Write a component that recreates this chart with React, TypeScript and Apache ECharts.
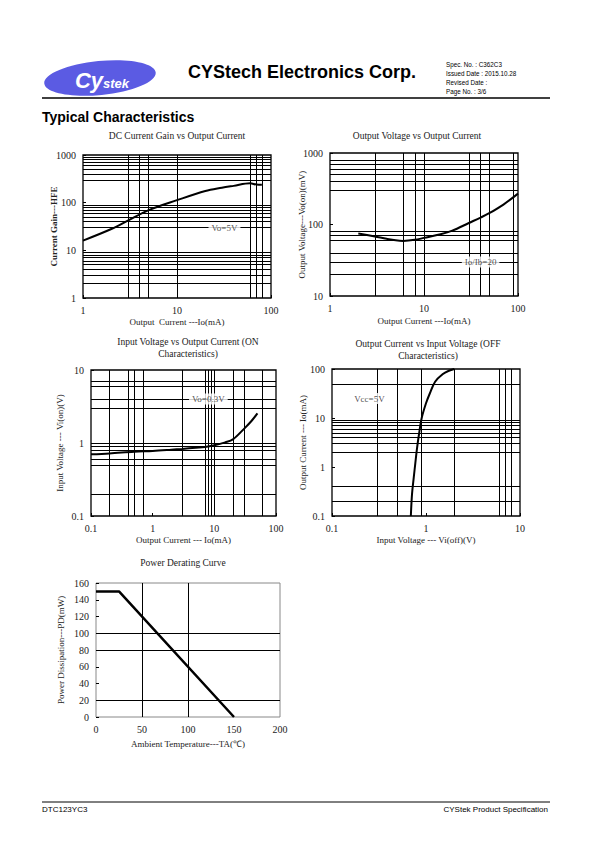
import React, { useEffect, useRef } from 'react';
import * as echarts from 'echarts';

// ---- Chart 1: DC Current Gain vs Output Current ----
const hfeIo = [1, 2, 3, 5, 10, 20, 30, 40, 60, 70, 80];
const hfeVal = [16, 28, 42, 70, 113, 175, 205, 225, 255, 240, 238];
const hfeGridX = [3, 4, 5, 10, 60, 70, 80];
const hfeGridY = [900, 800, 700, 600, 500, 400, 300, 90, 80, 70, 60, 50, 40, 30, 9, 8, 7, 6, 5, 4, 3, 2];

// ---- Chart 2: Output Voltage vs Output Current ----
const vceIo = [2, 3, 4, 5, 6, 8, 10, 15, 20, 30, 40, 50, 70, 100];
const vceVal = [75, 68, 63, 60, 59, 61, 65, 73, 82, 105, 125, 145, 190, 270];
const vceGridX = [3, 6, 8, 10, 30, 40, 50, 90];
const vceGridY = [800, 700, 600, 500, 400, 300, 80, 70, 60, 40, 30, 20];

// ---- Chart 3: Input Voltage vs Output Current (ON) ----
const vionIo = [0.1, 0.2, 0.5, 1, 2, 3, 5, 7, 10, 15, 20, 30, 40, 50];
const vionVal = [0.7, 0.72, 0.76, 0.78, 0.81, 0.83, 0.86, 0.88, 0.93, 1.02, 1.12, 1.55, 2.0, 2.55];
const vionGridX = [0.2, 0.4, 0.5, 0.7, 3, 7, 8, 9, 10, 20, 30, 60];
const vionGridY = [7, 6, 4, 3, 1, 0.9, 0.8, 0.6, 0.5, 0.2];

// ---- Chart 4: Output Current vs Input Voltage (OFF) ----
const vioffVi = [0.69, 0.71, 0.74, 0.77, 0.8, 0.84, 0.9, 1.0, 1.1, 1.25, 1.5, 1.75, 2.0];
const vioffIo = [0.1, 0.28, 0.6, 1.2, 2.3, 4.5, 10, 20, 32, 55, 78, 92, 100];
const vioffGridX = [0.3, 0.5, 0.9, 2, 6, 7, 8];
const vioffGridY = [50, 9, 8, 7, 6, 5, 4, 3, 2, 0.4, 0.2];

// ---- Chart 5: Power Derating Curve ----
const taVals = [0, 25, 150];
const pdVals = [150, 150, 0];
const pdGridX = [50, 100];
const pdGridY = [100, 80, 20];

// ---- Condition labels (chart index, x, y, text) ----
const noteChart = [0, 1, 2, 3];
const noteX = [32, 40, 8, 0.25];
const noteY = [30, 30, 4, 25];
const noteText = ['Vo=5V', 'Io/Ib=20', 'Vo=0.3V', 'Vcc=5V'];

const chartTitles = [
  'DC Current Gain vs Output Current',
  'Output Voltage vs Output Current',
  'Input Voltage vs Output Current (ON\nCharacteristics)',
  'Output Current vs Input Voltage (OFF\nCharacteristics)',
  'Power Derating Curve',
];
const xNames = [
  'Output  Current ---Io(mA)',
  'Output Current ---Io(mA)',
  'Output Current --- Io(mA)',
  'Input Voltage --- Vi(off)(V)',
  'Ambient Temperature---TA(\u2103)',
];
const yNames = [
  'Current Gain---HFE',
  'Output Voltage---Vo(on)(mV)',
  'Input Voltage --- Vi(on)(V)',
  'Output Current --- Io(mA)',
  'Power Dissipation---PD(mW)',
];
const specLines = ['Spec. No. : C362C3', 'Issued Date : 2015.10.28', 'Revised Date :', 'Page No. : 3/6'];

const SERIF = '"Liberation Serif", "Times New Roman", serif';
const SANS = '"Liberation Sans", Arial, sans-serif';

const grids = [
  { left: 83, top: 155, width: 188, height: 143 },
  { left: 330, top: 153, width: 188, height: 143 },
  { left: 91, top: 370, width: 185, height: 146 },
  { left: 332, top: 369, width: 188, height: 147 },
  { left: 96, top: 583, width: 184, height: 134 },
];
const titlePos = [
  [177, 136],
  [417, 136],
  [188, 348],
  [428, 350],
  [183, 563],
];
const xNameGap = [19, 20, 19, 19, 22];
const yNameGap = [24, 23, 26, 24, 30];

const fmtLog = (v: number) => String(parseFloat(Number(v).toPrecision(3)));

function axisCommon(i: number, isY: boolean) {
  return {
    gridIndex: i,
    name: isY ? yNames[i] : xNames[i],
    nameLocation: 'middle',
    nameGap: isY ? yNameGap[i] : xNameGap[i],
    nameMoveOverlap: false,
    nameTextStyle: {
      fontFamily: SERIF,
      fontSize: 9,
      lineHeight: 10,
      color: '#222',
      fontWeight: isY && i === 0 ? 'bold' : 'normal',
    },
    axisLine: { show: false },
    axisTick: { show: true, inside: true, length: 3, lineStyle: { color: '#000', width: 1 } },
    axisLabel: { fontFamily: SERIF, fontSize: 10, lineHeight: 10, color: '#222', margin: 7 },
    splitLine: { show: false },
  };
}

function logAxis(i: number, isY: boolean, min: number, max: number) {
  const c: any = axisCommon(i, isY);
  c.type = 'log';
  c.logBase = 10;
  c.min = min;
  c.max = max;
  c.axisLabel.formatter = fmtLog;
  return c;
}

function valAxis(i: number, isY: boolean, min: number, max: number, interval: number) {
  const c: any = axisCommon(i, isY);
  c.type = 'value';
  c.min = min;
  c.max = max;
  c.interval = interval;
  if (!isY) c.axisTick = { show: false };
  return c;
}

function gridLines(xs: number[], ys: number[], color: string) {
  return {
    symbol: ['none', 'none'],
    silent: true,
    animation: false,
    label: { show: false },
    emphasis: { disabled: true },
    lineStyle: { color, width: 1, type: 'solid' },
    data: [...xs.map((v) => ({ xAxis: v })), ...ys.map((v) => ({ yAxis: v }))],
  };
}

function curve(i: number, xs: number[], ys: number[], gx: number[], gy: number[], smooth: number | boolean, width: number) {
  return {
    type: 'line',
    xAxisIndex: i,
    yAxisIndex: i,
    data: xs.map((x, k) => [x, ys[k]]),
    symbol: 'none',
    smooth,
    lineStyle: { color: '#000', width },
    z: 3,
    silent: true,
    markLine: gridLines(gx, gy, '#000'),
  };
}

export default function App() {
  const ref = useRef<HTMLDivElement>(null);
  useEffect(() => {
    if (!ref.current) return;
    const chart = echarts.init(ref.current, undefined, { renderer: 'svg' });

    const noteSeries = noteText.map((t, k) => ({
      type: 'scatter',
      xAxisIndex: noteChart[k],
      yAxisIndex: noteChart[k],
      data: [[noteX[k], noteY[k]]],
      symbolSize: 1,
      itemStyle: { color: 'rgba(0,0,0,0)' },
      z: 6,
      silent: true,
      label: {
        show: true,
        position: 'inside',
        formatter: t,
        backgroundColor: '#fff',
        padding: [1, 3],
        fontFamily: SERIF,
        fontSize: 9,
        color: '#222',
      },
    }));

    const graphic: any[] = [
      // logo
      {
        type: 'ellipse',
        x: 100,
        y: 78,
        rotation: 0.1,
        shape: { cx: 0, cy: 0, rx: 56, ry: 17 },
        style: { fill: '#5b5be3' },
      },
      {
        type: 'text',
        x: 102,
        y: 80,
        style: {
          text: '{a|Cy}{b|stek}',
          align: 'center',
          verticalAlign: 'middle',
          rich: {
            a: { fontFamily: SANS, fontSize: 22, fontWeight: 'bold', fontStyle: 'italic', fill: '#fff', color: '#fff' },
            b: { fontFamily: SANS, fontSize: 13, fontWeight: 'bold', fontStyle: 'italic', fill: '#fff', color: '#fff', padding: [6, 0, 0, 0] },
          },
        },
      },
      {
        type: 'text',
        x: 188,
        y: 72,
        style: { text: 'CYStech Electronics Corp.', fontFamily: SANS, fontSize: 18, fontWeight: 'bold', fill: '#000', align: 'left', verticalAlign: 'middle' },
      },
      ...specLines.map((s, k) => ({
        type: 'text',
        x: 446,
        y: 64 + k * 9,
        scaleX: 0.84,
        style: { text: s, fontFamily: SANS, fontSize: 7.5, fill: '#000', align: 'left', verticalAlign: 'middle' },
      })),
      { type: 'line', shape: { x1: 42, y1: 98, x2: 550, y2: 98 }, style: { stroke: '#000', lineWidth: 1.5 } },
      {
        type: 'text',
        x: 42,
        y: 117,
        style: { text: 'Typical Characteristics', fontFamily: SANS, fontSize: 14, fontWeight: 'bold', fill: '#000', align: 'left', verticalAlign: 'middle' },
      },
      // footer
      { type: 'line', shape: { x1: 42, y1: 802, x2: 550, y2: 802 }, style: { stroke: '#000', lineWidth: 1 } },
      {
        type: 'text',
        x: 42,
        y: 809,
        style: { text: 'DTC123YC3', fontFamily: SANS, fontSize: 8, fill: '#000', align: 'left', verticalAlign: 'middle' },
      },
      {
        type: 'text',
        x: 548,
        y: 809,
        style: { text: 'CYStek Product Specification', fontFamily: SANS, fontSize: 8, fill: '#000', align: 'right', verticalAlign: 'middle' },
      },
      ...chartTitles.map((t, k) => ({
        type: 'text',
        x: titlePos[k][0],
        y: titlePos[k][1],
        style: { text: t, fontFamily: SERIF, fontSize: 9.5, fill: '#222', align: 'center', verticalAlign: 'middle', lineHeight: 12 },
      })),
    ];

    const option: any = {
      animation: false,
      backgroundColor: '#fff',
      grid: grids.map((g, k) => ({
        ...g,
        show: true,
        containLabel: false,
        borderColor: k === 4 ? '#888' : '#000',
        borderWidth: k === 4 ? 1 : 1.3,
        backgroundColor: 'transparent',
      })),
      xAxis: [
        logAxis(0, false, 1, 100),
        logAxis(1, false, 1, 100),
        logAxis(2, false, 0.1, 100),
        logAxis(3, false, 0.1, 10),
        valAxis(4, false, 0, 200, 50),
      ],
      yAxis: [
        logAxis(0, true, 1, 1000),
        logAxis(1, true, 10, 1000),
        logAxis(2, true, 0.1, 10),
        logAxis(3, true, 0.1, 100),
        valAxis(4, true, 0, 160, 20),
      ],
      series: [
        curve(0, hfeIo, hfeVal, hfeGridX, hfeGridY, 0.35, 2),
        curve(1, vceIo, vceVal, vceGridX, vceGridY, 0.35, 2),
        curve(2, vionIo, vionVal, vionGridX, vionGridY, 0.35, 2),
        curve(3, vioffVi, vioffIo, vioffGridX, vioffGridY, 0.35, 2),
        curve(4, taVals, pdVals, pdGridX, pdGridY, false, 2.5),
        ...noteSeries,
      ],
      graphic,
    };
    chart.setOption(option);
    return () => chart.dispose();
  }, []);
  return (
    <div
      ref={ref}
      style={{ position: 'absolute', left: 0, top: 0, width: 595, height: 842, background: '#fff' }}
    />
  );
}
